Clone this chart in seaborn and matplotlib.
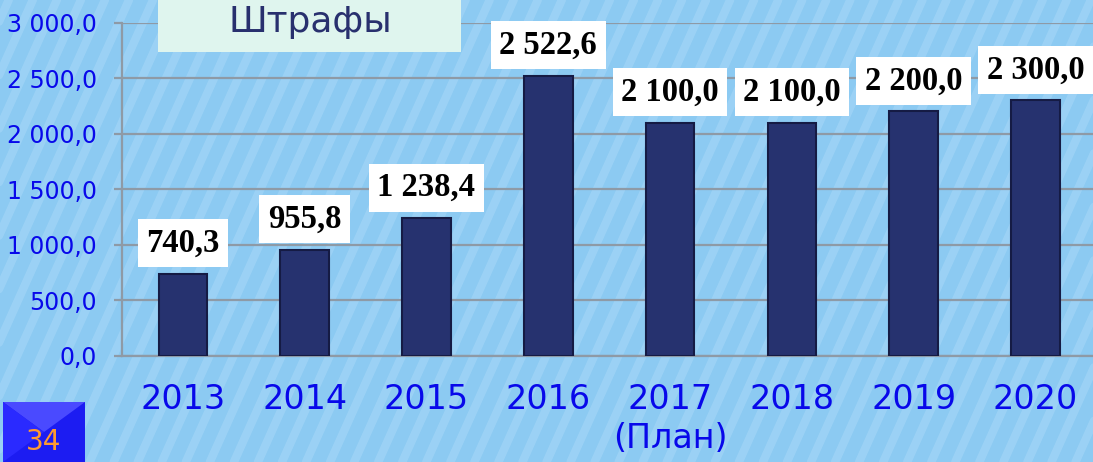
import numpy as np
import matplotlib
matplotlib.use("Agg")
import matplotlib.pyplot as plt
from matplotlib.lines import Line2D
from matplotlib.patches import Rectangle, Polygon
from matplotlib.ticker import FuncFormatter, MultipleLocator
import seaborn as sns

# data
years = ["2013", "2014", "2015", "2016", "2017\n(План)", "2018", "2019", "2020"]
fines = [740.3, 955.8, 1238.4, 2522.6, 2100.0, 2100.0, 2200.0, 2300.0]
title = "Штрафы"
slide_no = "34"

BG = "#8ccaf2"
STRIPE = "#b4defa"
BAR = "#26326f"
BAR_EDGE = "#151b44"
GRID = "#8e9aa6"
TICK_BLUE = "#0808ea"


def ru_num(v, _pos=None):
    return f"{v:,.1f}".replace(",", " ").replace(".", ",")


sns.set_theme(style="white")
plt.rcParams["font.family"] = ["DejaVu Sans"]

fig = plt.figure(figsize=(10.93, 4.62), dpi=100, facecolor=BG)

# diagonal stripe texture of the slide background
for x0 in np.arange(-0.6, 1.1, 0.022):
    fig.add_artist(Line2D([x0, x0 + 0.19], [0, 1], transform=fig.transFigure,
                          color=STRIPE, lw=6, alpha=0.4, zorder=-5))

ax = fig.add_axes([122 / 1093, 106.3 / 462, 974.4 / 1093, 333 / 462])
ax.set_facecolor("none")

sns.barplot(x=years, y=fines, color=BAR, width=0.4, saturation=1,
            edgecolor=BAR_EDGE, linewidth=1.5, ax=ax, zorder=3)

ax.set_xlim(-0.5, len(years) - 0.5)
ax.set_ylim(0, 3000)
ax.yaxis.set_major_locator(MultipleLocator(500))
ax.yaxis.set_major_formatter(FuncFormatter(ru_num))
ax.grid(axis="y", color=GRID, lw=1.6, zorder=1)
ax.set_axisbelow(True)
ax.set_xlabel("")
ax.set_ylabel("")

for side in ["top", "right"]:
    ax.spines[side].set_visible(False)
for side in ["left", "bottom"]:
    ax.spines[side].set_color(GRID)
    ax.spines[side].set_linewidth(1.6)

ax.set_xticks(np.arange(-0.5, len(years), 1), minor=True)
ax.tick_params(axis="x", which="major", length=0, pad=20,
               labelsize=24, labelcolor=TICK_BLUE)
ax.tick_params(axis="x", which="minor", length=8, width=1.6, color=GRID)
ax.tick_params(axis="y", which="major", length=6, width=1.6, color=GRID,
               pad=12, labelsize=17, labelcolor=TICK_BLUE, left=True)

for i, v in enumerate(fines):
    ax.annotate(ru_num(v), (i, v), xytext=(0, 22), textcoords="offset points",
                ha="center", va="center", fontsize=23.5, fontweight="bold",
                family="Liberation Serif", color="black", zorder=5,
                bbox=dict(boxstyle="square,pad=0.26", fc="white", ec="none"))

# title plate
fig.add_artist(Rectangle((158 / 1093, 1 - 52 / 462), 303 / 1093, 52 / 462,
                         transform=fig.transFigure, fc="#dff5ee", ec="none",
                         zorder=10))
fig.text(310 / 1093, 1 - 22 / 462, title, ha="center", va="center",
         fontsize=26, color="#28306e", family="DejaVu Sans", zorder=11)

# slide number plate with a simple bevel
x0, x1, y1 = 3 / 1093, 85 / 1093, 60 / 462
cx, cy = (x0 + x1) / 2, y1 / 2
fig.add_artist(Rectangle((x0, 0), x1 - x0, y1, transform=fig.transFigure,
                         fc="#1c1cf2", ec="none", zorder=10))
fig.add_artist(Polygon([[x0, y1], [x1, y1], [cx, cy]], closed=True,
                       transform=fig.transFigure, fc="#4a4aff", ec="none",
                       zorder=10))
fig.add_artist(Polygon([[x0, 0], [x0, y1], [cx, cy]], closed=True,
                       transform=fig.transFigure, fc="#2a2aff", ec="none",
                       zorder=10))
fig.text(cx, 20 / 462, slide_no, ha="center", va="center",
         fontsize=20, color="#ff9a30", zorder=11)

fig.savefig("out.png", dpi=100, facecolor=BG)
